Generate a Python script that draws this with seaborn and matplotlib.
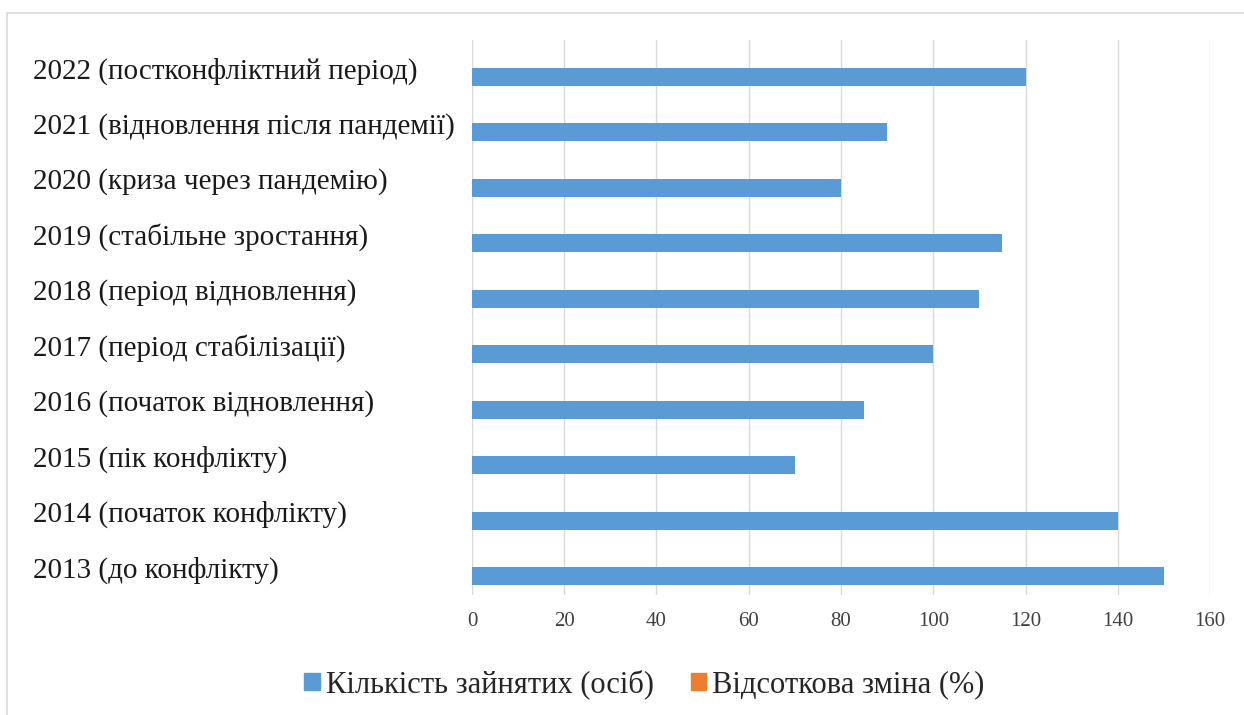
import pandas as pd
import seaborn as sns
import matplotlib.pyplot as plt
from matplotlib.patches import Rectangle, Patch

periods = [
    "2022 (постконфліктний період)",
    "2021 (відновлення після пандемії)",
    "2020 (криза через пандемію)",
    "2019 (стабільне зростання)",
    "2018 (період відновлення)",
    "2017 (період стабілізації)",
    "2016 (початок відновлення)",
    "2015 (пік конфлікту)",
    "2014 (початок конфлікту)",
    "2013 (до конфлікту)",
]
employed = [120, 90, 80, 115, 110, 100, 85, 70, 140, 150]
pct_change = [0, 0, 0, 0, 0, 0, 0, 0, 0, 0]

s_emp = "Кількість зайнятих (осіб)"
s_pct = "Відсоткова зміна (%)"
blue = "#5B9BD5"
orange = "#ED7D31"

df = pd.concat([
    pd.DataFrame({"period": periods, "series": s_pct, "value": pct_change}),
    pd.DataFrame({"period": periods, "series": s_emp, "value": employed}),
])

sns.set_style("white")
plt.rcParams["font.family"] = ["Liberation Serif", "DejaVu Serif"]

fig = plt.figure(figsize=(12.44, 7.15), dpi=100)
ax = fig.add_axes([0.3794, 0.168, 0.5933, 0.776])

sns.barplot(data=df, y="period", x="value", hue="series", order=periods,
            hue_order=[s_pct, s_emp], palette={s_emp: blue, s_pct: orange},
            orient="h", width=0.65, errorbar=None, saturation=1,
            linewidth=0, ax=ax, legend=False)

ax.set_xlim(0, 160)
ax.set_xticks(range(0, 161, 20))
ax.set_xlabel("")
ax.set_ylabel("")
ax.grid(axis="x", color="#D9D9D9", linewidth=1)
ax.grid(axis="y", visible=False)
ax.set_axisbelow(True)
for sp in ax.spines.values():
    sp.set_visible(False)

ax.tick_params(axis="x", length=0, pad=12, labelsize=15, labelcolor="#404040")
ax.tick_params(axis="y", length=0, pad=316, labelsize=21, labelcolor="#1a1a1a")
for lab in ax.get_yticklabels():
    lab.set_ha("left")

handles = [Patch(color=blue), Patch(color=orange)]
fig.legend(handles, [s_emp, s_pct], loc="center", bbox_to_anchor=(0.518, 0.043),
           ncol=2, frameon=False, fontsize=22, handlelength=0.5, handleheight=0.5,
           handletextpad=0.2, columnspacing=1.2)

fig.patches.append(Rectangle((7 / 1244, -0.01), 1.0, 1 - 13 / 715 + 0.01,
                             transform=fig.transFigure, fill=False,
                             edgecolor="#D9D9D9", linewidth=1.2))

fig.savefig("out.png", dpi=100)
